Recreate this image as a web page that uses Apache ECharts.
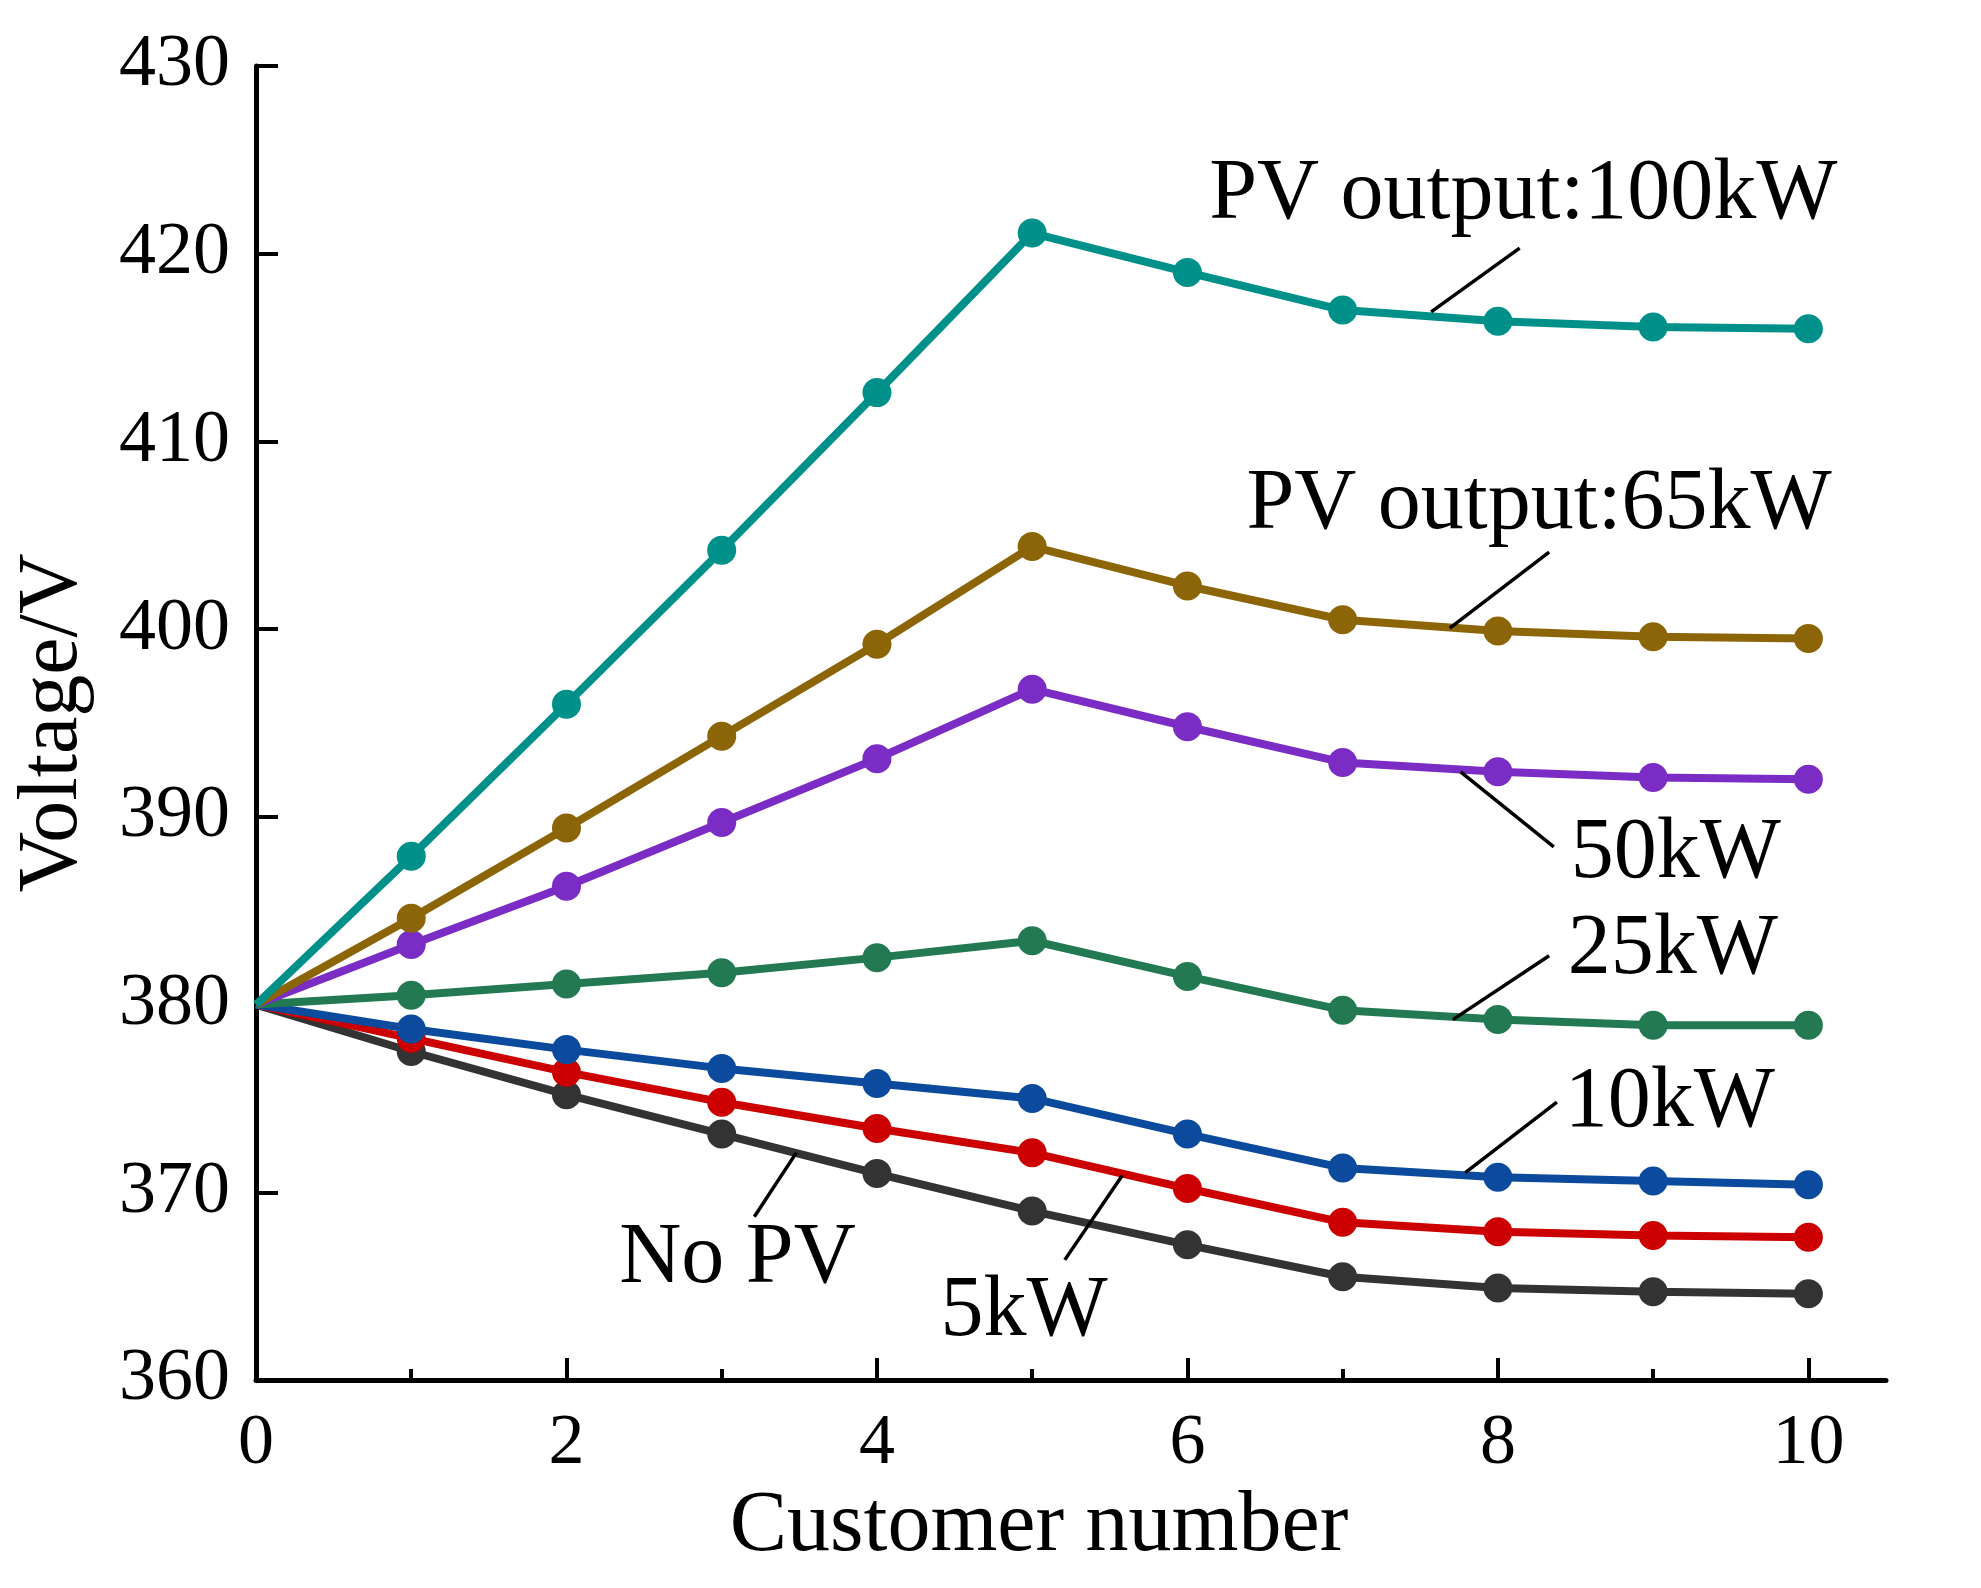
<!DOCTYPE html>
<html>
<head>
<meta charset="utf-8">
<script src="https://cdn.jsdelivr.net/npm/echarts@6/dist/echarts.min.js"></script>
<style>
  html, body { margin: 0; padding: 0; background: #fff; }
  #chart { width: 1981px; height: 1588px; }
</style>
</head>
<body>
<div id="chart"></div>
<script>
  // customer number 0..10
  var customers = [0, 1, 2, 3, 4, 5, 6, 7, 8, 9, 10]

  // voltages
  var noPV   = [380, 377.5, 375.2, 373.1, 371.0, 369.0, 367.2, 365.5, 364.9, 364.7, 364.6]
  var pv5    = [380, 378.2, 376.4, 374.8, 373.4, 372.1, 370.2, 368.4, 367.9, 367.7, 367.6]
  var pv10   = [380, 378.7, 377.6, 376.6, 375.8, 375.0, 373.1, 371.3, 370.8, 370.6, 370.4]
  var pv25   = [380, 380.5, 381.1, 381.7, 382.5, 383.4, 381.5, 379.7, 379.2, 378.9, 378.9]
  var pv50   = [380, 383.2, 386.3, 389.7, 393.1, 396.8, 394.8, 392.9, 392.4, 392.1, 392.0]
  var pv65   = [380, 384.6, 389.4, 394.3, 399.2, 404.4, 402.3, 400.5, 399.9, 399.6, 399.5]
  var pv100  = [380, 387.9, 396.0, 404.2, 412.6, 421.1, 419.0, 417.0, 416.4, 416.1, 416.0]

  var seriesNames = ['No PV', '5kW', '10kW', '25kW', '50kW', '65kW', '100kW']
  var seriesValues = [noPV, pv5, pv10, pv25, pv50, pv65, pv100]
  var seriesColors = ['#333333', '#cc0000', '#0b4a9c', '#237a52', '#7b2cc4', '#8b6508', '#00908a']

  var xMajorTicks = [0, 2, 4, 6, 8, 10]
  var xMinorTicks = [1, 3, 5, 7, 9]

  // annotation labels: text, position of text (left, middle) in data coords
  var noteTexts = ['PV output:100kW', 'PV output:65kW', '50kW', '25kW', '10kW', '5kW', 'No PV']
  var noteAt = [[6.14, 423.1], [6.38, 406.6], [8.47, 388.0], [8.45, 382.9], [8.43, 374.75], [4.41, 363.6], [2.34, 366.4]]
  // leader lines from curve to label
  var leaderFrom = [[7.57, 416.9], [7.69, 400.05], [7.76, 392.4], [7.71, 379.2], [7.79, 371.05], [5.58, 370.9], [3.48, 372.1]]
  var leaderTo = [[8.14, 420.3], [8.33, 404.1], [8.36, 388.4], [8.33, 382.6], [8.38, 374.8], [5.21, 366.4], [3.21, 368.7]]

  var font = 'Liberation Serif'
  var chart = echarts.init(document.getElementById('chart'))

  var series = []
  for (var s = 0; s < seriesValues.length; s++) {
    var pts = []
    for (var i = 0; i < customers.length; i++) {
      var item = {value: [customers[i], seriesValues[s][i]]}
      if (i === 0) item.symbol = 'none'
      pts.push(item)
    }
    series.push({
      name: seriesNames[s],
      type: 'line',
      data: pts,
      symbol: 'circle',
      symbolSize: 29,
      color: seriesColors[s],
      lineStyle: {width: 8, color: seriesColors[s]},
      itemStyle: {color: seriesColors[s]},
      z: 3 + s,
      animation: false
    })
  }

  for (var k = 0; k < leaderFrom.length; k++) {
    series.push({
      type: 'line',
      data: [leaderFrom[k], leaderTo[k]],
      symbol: 'none',
      lineStyle: {width: 3.5, color: '#000'},
      silent: true,
      z: 20,
      animation: false
    })
  }

  var noteData = []
  for (var n = 0; n < noteTexts.length; n++) {
    noteData.push({value: noteAt[n], name: noteTexts[n]})
  }
  series.push({
    type: 'scatter',
    data: noteData,
    symbolSize: 0,
    silent: true,
    z: 30,
    animation: false,
    itemStyle: {opacity: 1},
    label: {
      show: true,
      position: 'right',
      distance: 0,
      formatter: '{b}',
      color: '#000',
      opacity: 1,
      fontFamily: font,
      fontSize: 86,
      verticalAlign: 'middle'
    }
  })

  var option = {
    backgroundColor: '#fff',
    animation: false,
    grid: {left: 256, right: 95, top: 66, bottom: 208},
    xAxis: [
      {
        type: 'value',
        min: 0,
        max: 10.5,
        name: 'Customer number',
        nameLocation: 'middle',
        nameGap: 86,
        nameTextStyle: {fontFamily: font, fontSize: 86, color: '#000', padding: [0, 64, 0, 0]},
        splitLine: {show: false},
        axisLine: {show: true, onZero: false, lineStyle: {color: '#000', width: 5}},
        axisTick: {show: true, inside: true, length: 22, customValues: xMajorTicks, lineStyle: {color: '#000', width: 4}},
        axisLabel: {customValues: xMajorTicks, margin: 28, fontFamily: font, fontSize: 72, color: '#000'}
      },
      {
        type: 'value',
        min: 0,
        max: 10.5,
        position: 'bottom',
        splitLine: {show: false},
        axisLine: {show: false},
        axisTick: {show: true, inside: true, length: 11, customValues: xMinorTicks, lineStyle: {color: '#000', width: 4}},
        axisLabel: {show: false}
      }
    ],
    yAxis: {
      type: 'value',
      min: 360,
      max: 430,
      interval: 10,
      name: 'Voltage/V',
      nameLocation: 'middle',
      nameGap: 160,
      nameTextStyle: {fontFamily: font, fontSize: 84, color: '#000'},
      splitLine: {show: false},
      axisLine: {show: true, onZero: false, lineStyle: {color: '#000', width: 5}},
      axisTick: {show: true, inside: true, length: 22, lineStyle: {color: '#000', width: 4}},
      axisLabel: {margin: 26, fontFamily: font, fontSize: 74, color: '#000'}
    },
    series: series
  }

  chart.setOption(option)
</script>
</body>
</html>
